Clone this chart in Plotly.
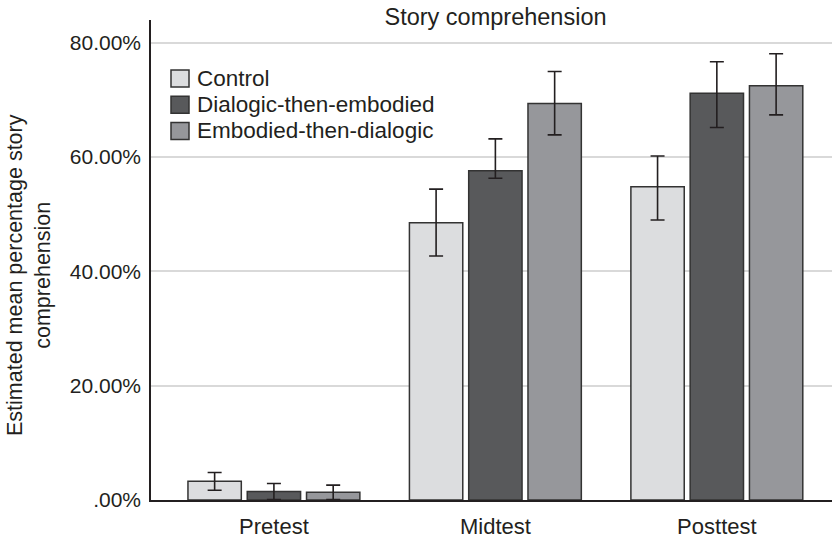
import plotly.graph_objects as go

# Test occasions along the x axis
occasions = ["Pretest", "Midtest", "Posttest"]

# Estimated mean percentage story comprehension per condition
control = [3.3, 48.5, 54.8]
dialogic_then_embodied = [1.5, 57.6, 71.2]
embodied_then_dialogic = [1.35, 69.4, 72.5]

# Error bar extents (upper, lower) per condition
control_err_up = [1.5, 5.9, 5.4]
control_err_down = [1.6, 5.8, 5.8]
dialogic_err_up = [1.4, 5.6, 5.5]
dialogic_err_down = [1.4, 1.3, 6.0]
embodied_err_up = [1.25, 5.6, 5.6]
embodied_err_down = [1.25, 5.5, 5.1]

# Y axis ticks
y_tickvals = [0, 20, 40, 60, 80]
y_ticktext = [".00%", "20.00%", "40.00%", "60.00%", "80.00%"]

x_pos = list(range(len(occasions)))

series = [
    ("Control", control, control_err_up, control_err_down, "#dcdddf"),
    ("Dialogic-then-embodied", dialogic_then_embodied, dialogic_err_up, dialogic_err_down, "#58595b"),
    ("Embodied-then-dialogic", embodied_then_dialogic, embodied_err_up, embodied_err_down, "#96979b"),
]

FONT = "Liberation Sans, Arial, sans-serif"
INK = "#231f20"

fig = go.Figure()
for name, vals, up, down, color in series:
    fig.add_trace(go.Bar(
        name=name,
        x=x_pos,
        y=vals,
        marker=dict(color=color, line=dict(color="#333333", width=1.5)),
        error_y=dict(type="data", symmetric=False, array=up, arrayminus=down,
                     color=INK, thickness=1.6, width=7),
        showlegend=False,
    ))

# Legend drawn as swatches + labels in the upper-left of the plot area
W, H = 832, 541
legend_shapes = []
legend_notes = []
row_y0 = 78.5
row_step = 26.2
for i, (name, _, _, _, color) in enumerate(series):
    cy = row_y0 + i * row_step
    legend_shapes.append(dict(
        type="rect", xref="paper", yref="paper",
        x0=(171 - 151) / 681, x1=(189 - 151) / 681,
        y0=1 - (cy + 8.5 - 20) / 480, y1=1 - (cy - 8.5 - 20) / 480,
        fillcolor=color, line=dict(color="#333333", width=1.5),
    ))
    legend_notes.append(dict(
        text=name, xref="paper", yref="paper",
        x=(195 - 151) / 681, y=1 - (cy - 20) / 480,
        xanchor="left", yanchor="middle", showarrow=False,
        font=dict(family=FONT, size=22.5, color=INK),
    ))

fig.update_layout(
    width=W,
    height=H,
    barmode="group",
    bargap=0.197,
    bargroupgap=0.1,
    plot_bgcolor="white",
    paper_bgcolor="white",
    margin=dict(l=151, r=0, t=20, b=41),
    font=dict(family=FONT, color=INK, size=22),
    title=dict(
        text="Story comprehension",
        x=495.5 / W, xanchor="center",
        y=1 - 17 / H, yanchor="middle",
        font=dict(family=FONT, size=23.5, color=INK),
    ),
    showlegend=False,
    xaxis=dict(
        range=[-0.555, 2.52],
        tickmode="array",
        tickvals=x_pos,
        ticktext=occasions,
        showgrid=False,
        zeroline=False,
        showline=True,
        linecolor=INK,
        linewidth=1.5,
        ticks="",
        ticklabelstandoff=6,
        tickfont=dict(family=FONT, size=22, color=INK),
    ),
    yaxis=dict(
        range=[0, 84],
        tickmode="array",
        tickvals=y_tickvals,
        ticktext=y_ticktext,
        showgrid=True,
        gridcolor="#d9d9d9",
        gridwidth=1.5,
        zeroline=False,
        showline=True,
        linecolor=INK,
        linewidth=1.5,
        ticks="",
        ticklabelstandoff=4,
        tickfont=dict(family=FONT, size=21, color=INK),
    ),
    shapes=legend_shapes,
    annotations=legend_notes + [
        dict(
            text="Estimated mean percentage story<br>comprehension",
            x=(29 - 151) / 681, y=1 - (275 - 20) / 480, xref="paper", yref="paper",
            xanchor="center", yanchor="middle",
            textangle=-90, showarrow=False,
            font=dict(family=FONT, size=21.5, color=INK),
        )
    ],
)

fig.write_html("out.html")
